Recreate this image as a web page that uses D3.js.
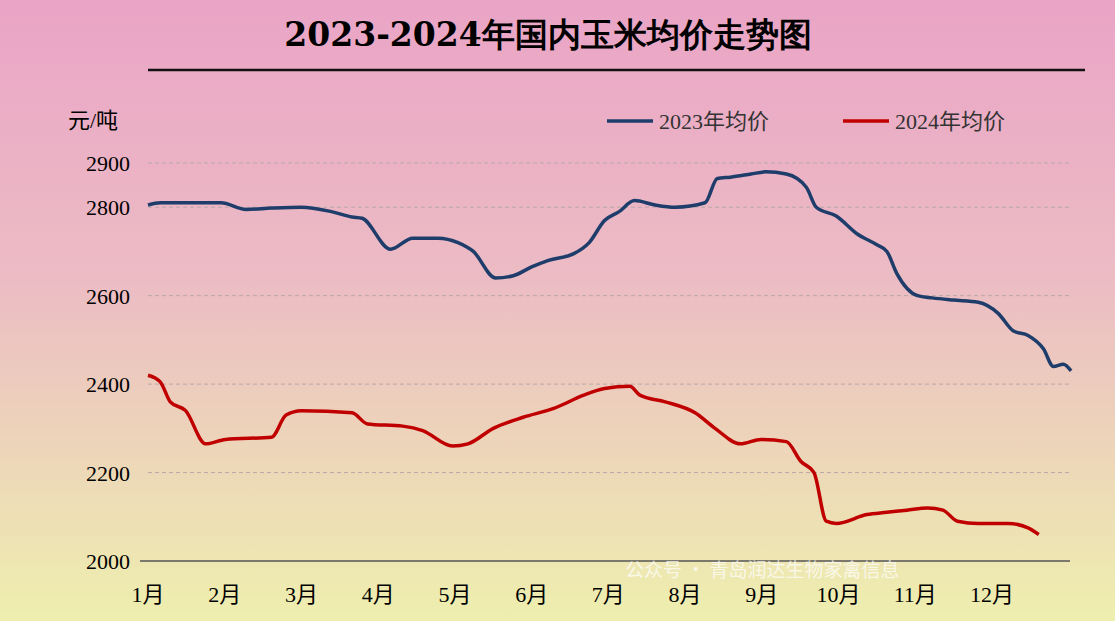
<!DOCTYPE html>
<html><head><meta charset="utf-8">
<script src="https://cdn.jsdelivr.net/npm/d3@7"></script>
<style>body{margin:0}svg{display:block}</style>
</head><body>
<script>
// month labels and y ticks
var months = ["1月","2月","3月","4月","5月","6月","7月","8月","9月","10月","11月","12月"]
var yTicks = [2000, 2200, 2400, 2600, 2800, 2900]

// 2023 average price, [month position, yuan/t]
var x2023 = [0,.16,.95,1.28,1.61,2,2.39,2.66,2.79,3.16,3.45,3.78,4.04,4.24,4.53,4.76,5,5.22,5.55,5.75,5.95,6.14,6.34,6.61,6.87,7.26,7.42,7.59,7.86,8.05,8.32,8.58,8.71,8.97,9.24,9.5,9.63,9.76,10.03,10.22,10.49,10.82,11.08,11.28,11.47,11.67,11.8,11.93,12.03]
var y2023 = [2805,2810,2810,2795,2798,2800,2790,2778,2775,2705,2730,2730,2720,2700,2640,2645,2665,2680,2695,2720,2770,2790,2815,2805,2800,2810,2865,2868,2875,2880,2875,2845,2800,2780,2740,2715,2700,2650,2600,2595,2590,2585,2560,2520,2510,2480,2440,2445,2430]

// 2024 average price
var x2024 = [0,.16,.29,.49,.75,1.01,1.61,1.8,2,2.66,2.86,3.32,3.58,3.97,4.17,4.5,4.89,5.29,5.68,5.95,6.28,6.41,6.74,7.13,7.39,7.72,7.99,8.32,8.51,8.68,8.84,8.97,9.37,9.63,9.89,10.16,10.36,10.55,10.82,11.21,11.47,11.61]
var y2024 = [2420,2405,2360,2340,2265,2275,2280,2330,2340,2335,2310,2305,2295,2260,2265,2300,2325,2345,2375,2390,2395,2375,2360,2335,2300,2265,2275,2270,2225,2200,2090,2085,2105,2110,2115,2120,2115,2090,2085,2085,2075,2060]

var W = 1115, H = 621
var svg = d3.select("body").append("svg").attr("width", W).attr("height", H)

var grad = svg.append("defs").append("linearGradient").attr("id", "bg")
  .attr("x1", 0).attr("y1", 0).attr("x2", 0).attr("y2", 1)
grad.append("stop").attr("offset", "0%").attr("stop-color", "#eaa4c6")
grad.append("stop").attr("offset", "45%").attr("stop-color", "#ecbcc4")
grad.append("stop").attr("offset", "100%").attr("stop-color", "#eeefae")
svg.append("rect").attr("width", W).attr("height", H).attr("fill", "url(#bg)")

svg.append("text").attr("x", 548).attr("y", 46).attr("text-anchor", "middle")
  .attr("font-family", "DejaVu Serif, serif").attr("font-weight", "bold").attr("font-size", 33)
  .text("2023-2024年国内玉米均价走势图")
svg.append("line").attr("x1", 148).attr("x2", 1085).attr("y1", 70).attr("y2", 70)
  .attr("stroke", "#111").attr("stroke-width", 2.5)

var x = d3.scaleLinear().domain([0, 11]).range([148, 992])
var y = d3.scaleLinear().domain([2000, 2900]).range([561, 163])

var font = "Liberation Serif, 'Noto Sans CJK SC', serif"

svg.append("g").selectAll("line").data(yTicks.slice(1)).join("line")
  .attr("x1", 148).attr("x2", 1070).attr("y1", y).attr("y2", y)
  .attr("stroke", "#b8a8a8").attr("stroke-dasharray", "4,3")

svg.append("g").selectAll("text").data(yTicks).join("text")
  .attr("x", 130).attr("y", function(d) { return y(d) + 8 }).attr("text-anchor", "end")
  .attr("font-family", font).attr("font-size", 22).text(function(d) { return d })

svg.append("line").attr("x1", 140).attr("x2", 1070).attr("y1", y(2000)).attr("y2", y(2000))
  .attr("stroke", "#555").attr("stroke-width", 1.5)

svg.append("g").selectAll("text").data(months).join("text")
  .attr("x", function(d, i) { return x(i) }).attr("y", 602).attr("text-anchor", "middle")
  .attr("font-family", font).attr("font-size", 22).text(function(d) { return d })

svg.append("text").attr("x", 68).attr("y", 128).attr("font-family", font).attr("font-size", 22).text("元/吨")

var line = d3.line().x(function(d) { return x(d[0]) }).y(function(d) { return y(d[1]) })
  .curve(d3.curveMonotoneX)
svg.append("path").datum(d3.zip(x2023, y2023)).attr("d", line)
  .attr("fill", "none").attr("stroke", "#1f3d6b").attr("stroke-width", 3.5)
svg.append("path").datum(d3.zip(x2024, y2024)).attr("d", line)
  .attr("fill", "none").attr("stroke", "#c00000").attr("stroke-width", 3.5)

var legend = [["2023年均价", "#1f3d6b", 607], ["2024年均价", "#c00000", 843]]
legend.forEach(function(l) {
  svg.append("line").attr("x1", l[2]).attr("x2", l[2] + 46).attr("y1", 121).attr("y2", 121)
    .attr("stroke", l[1]).attr("stroke-width", 3.5)
  svg.append("text").attr("x", l[2] + 52).attr("y", 129).attr("font-family", font)
    .attr("font-size", 22).attr("fill", "#333").text(l[0])
})

svg.append("text").attr("x", 625).attr("y", 577).attr("font-family", "'Noto Sans CJK SC', sans-serif")
  .attr("font-size", 19).attr("fill", "#ffffff").attr("opacity", 0.7)
  .text("公众号 · 青岛润达生物家禽信息")
</script>
</body></html>
